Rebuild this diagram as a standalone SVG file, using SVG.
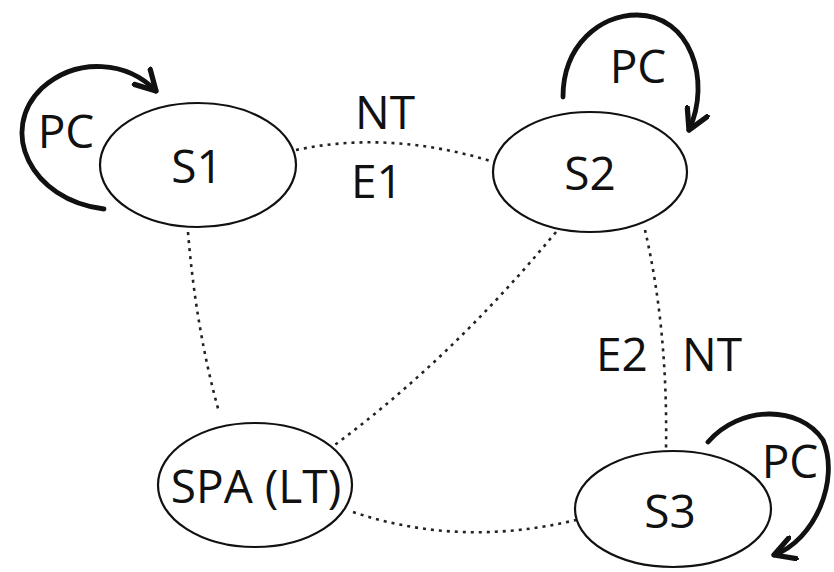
<svg xmlns="http://www.w3.org/2000/svg" width="834" height="572" viewBox="0 0 834 572">
<style>
.node{fill:#fff;stroke:#111;stroke-width:2.2}
.lbl{font-family:"Open Sans","Noto Sans",sans-serif;font-size:46px;fill:#111;text-anchor:middle}
.dot{fill:none;stroke:#222;stroke-width:2.6;stroke-dasharray:3 5}
.loop{fill:none;stroke:#111;stroke-width:4.8;stroke-linecap:round}
</style>
<defs>
<marker id="arr" viewBox="0 0 12 12" refX="10" refY="6" markerWidth="5.5" markerHeight="5.5" orient="auto" markerUnits="strokeWidth">
<path d="M1 1 L10 6 L1 11" fill="none" stroke="#111" stroke-width="2.4" stroke-linecap="round" stroke-linejoin="round"/>
</marker>
</defs>
<rect width="834" height="572" fill="#fff"/>
<g id="connectors">
<path class="dot" d="M296 150 Q390 130 494 162"/>
<path class="dot" d="M188 232 Q196 330 219 412"/>
<path class="dot" d="M556 232 Q450 360 332 447"/>
<path class="dot" d="M353 512 Q460 548 576 520"/>
<path class="dot" d="M645 230 Q668 330 666 450"/>
<path class="loop" d="M104 209 C30 200 -2 130 42 88 C78 56 128 62 156 91" marker-end="url(#arr)"/>
<path class="loop" d="M563 97 C563 45 600 15 637 15 C690 15 712 80 689 130" marker-end="url(#arr)"/>
<path class="loop" d="M708 442 C740 405 800 405 823 440 C840 480 815 540 774 555" marker-end="url(#arr)"/>
</g>
<g id="S1">
<ellipse class="node" cx="198" cy="165" rx="98" ry="62"/>
<text class="lbl" x="197" y="183">S1</text>
</g>
<g id="S2">
<ellipse class="node" cx="590" cy="172" rx="97" ry="60"/>
<text class="lbl" x="590" y="190">S2</text>
</g>
<g id="SPA">
<ellipse class="node" cx="255" cy="485" rx="97" ry="62"/>
<text class="lbl" x="256" y="503">SPA (LT)</text>
</g>
<g id="S3">
<ellipse class="node" cx="673" cy="509" rx="98" ry="58"/>
<text class="lbl" x="670" y="528">S3</text>
</g>
<g id="labels">
<text class="lbl" x="66" y="148">PC</text>
<text class="lbl" x="638" y="83">PC</text>
<text class="lbl" x="790" y="478">PC</text>
<text class="lbl" x="385" y="129">NT</text>
<text class="lbl" x="377" y="198">E1</text>
<text class="lbl" x="622" y="371">E2</text>
<text class="lbl" x="712" y="371">NT</text>
</g>
</svg>
